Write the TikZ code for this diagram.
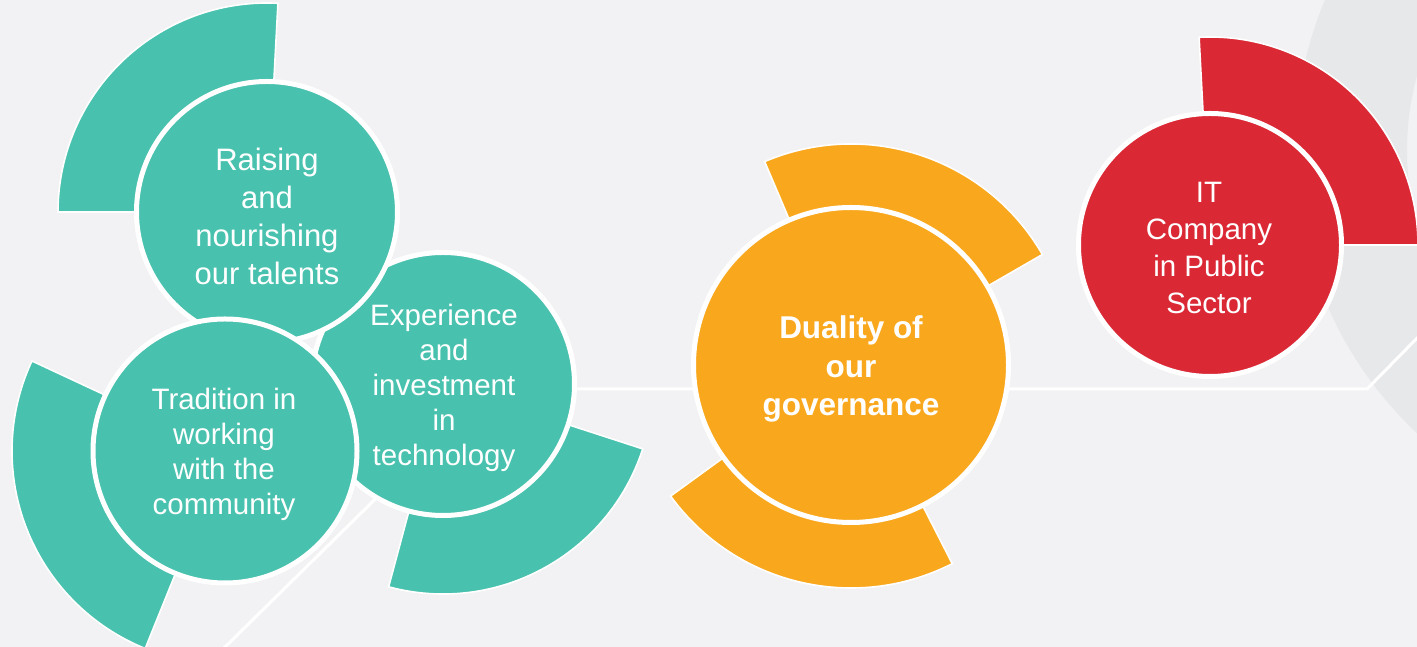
\documentclass[tikz,border=0pt]{standalone}
\usepackage{fontspec}
\setmainfont{Liberation Sans}
\definecolor{bgc}{HTML}{F2F2F4}
\definecolor{ringc}{HTML}{E7E8EA}
\definecolor{tealc}{HTML}{48C2AE}
\definecolor{orangec}{HTML}{F9A81E}
\definecolor{redc}{HTML}{DA2835}
\begin{document}
\begin{tikzpicture}[x=1pt,y=1pt,
  sector/.style={draw=white, line width=1.6pt, line join=miter},
  disc/.style={circle, draw=white, line width=5pt, inner sep=0pt},
  wline/.style={draw=white, line width=3pt},
  label/.style={text=white, align=center, inner sep=0pt},
  lbl/.style={label, font={\fontsize{29.5}{35}\selectfont}}]
\fill[bgc] (0,0) rectangle (1417,647);
\useasboundingbox (0,0) rectangle (1417,647);
\clip (0,0) rectangle (1417,647);
% background ring
\fill[ringc, even odd rule] (1685,497) circle[radius=390] (1685,497) circle[radius=278];
% centres
\coordinate (cR) at (267,435);
\coordinate (cT) at (225,196);
\coordinate (cE) at (443,263);
\coordinate (cD) at (851,282);
\coordinate (cI) at (1210,402);
% background lines
\coordinate (h1) at (560,258);
\coordinate (h2) at (1367,258);
\coordinate (h3) at (1430,322);
\coordinate (d1) at (220,-5);
\coordinate (d2) at (420,192);
\draw[wline] (h1) -- (h2) -- (h3);
\draw[wline] (d1) -- (d2);
% outer sectors
\filldraw[sector, fill=tealc] (cR) -- ++(87:209) arc[start angle=87, end angle=180, radius=209] -- cycle;
\filldraw[sector, fill=tealc] (cT) -- ++(155:213) arc[start angle=155, end angle=248, radius=213] -- cycle;
\filldraw[sector, fill=tealc] (cE) -- ++(-105:210) arc[start angle=-105, end angle=-18, radius=210] -- cycle;
\filldraw[sector, fill=orangec] (cD) -- ++(30:221) arc[start angle=30, end angle=113, radius=221] -- cycle;
\filldraw[sector, fill=orangec] (cD) -- ++(216:223) arc[start angle=216, end angle=297, radius=223] -- cycle;
\filldraw[sector, fill=redc] (cI) -- ++(0:208) arc[start angle=0, end angle=93, radius=208] -- cycle;
% circles
\node[disc, fill=tealc, minimum size=263] (exp) at (cE) {};
\node[disc, fill=tealc, minimum size=261] (raise) at (cR) {};
\node[disc, fill=tealc, minimum size=264] (trad) at (cT) {};
\node[disc, fill=orangec, minimum size=315] (dual) at (cD) {};
\node[disc, fill=redc, minimum size=263] (itc) at (cI) {};
% texts
\node[label, font={\fontsize{31}{38}\selectfont}] (raiseT) at (267,431) {Raising\\and\\nourishing\\our talents};
\node[lbl] (tradT) at (224,193) {Tradition in\\working\\with the\\community};
\node[lbl] (expT) at (444,259) {Experience\\and\\investment\\in\\technology};
\node[label, font={\fontsize{31.5}{38.5}\selectfont\bfseries}] (dualT) at (851,278) {Duality of\\our\\governance};
\node[label, font={\fontsize{29.5}{37}\selectfont}] (itT) at (1209,399) {IT\\Company\\in Public\\Sector};
\end{tikzpicture}
\end{document}
